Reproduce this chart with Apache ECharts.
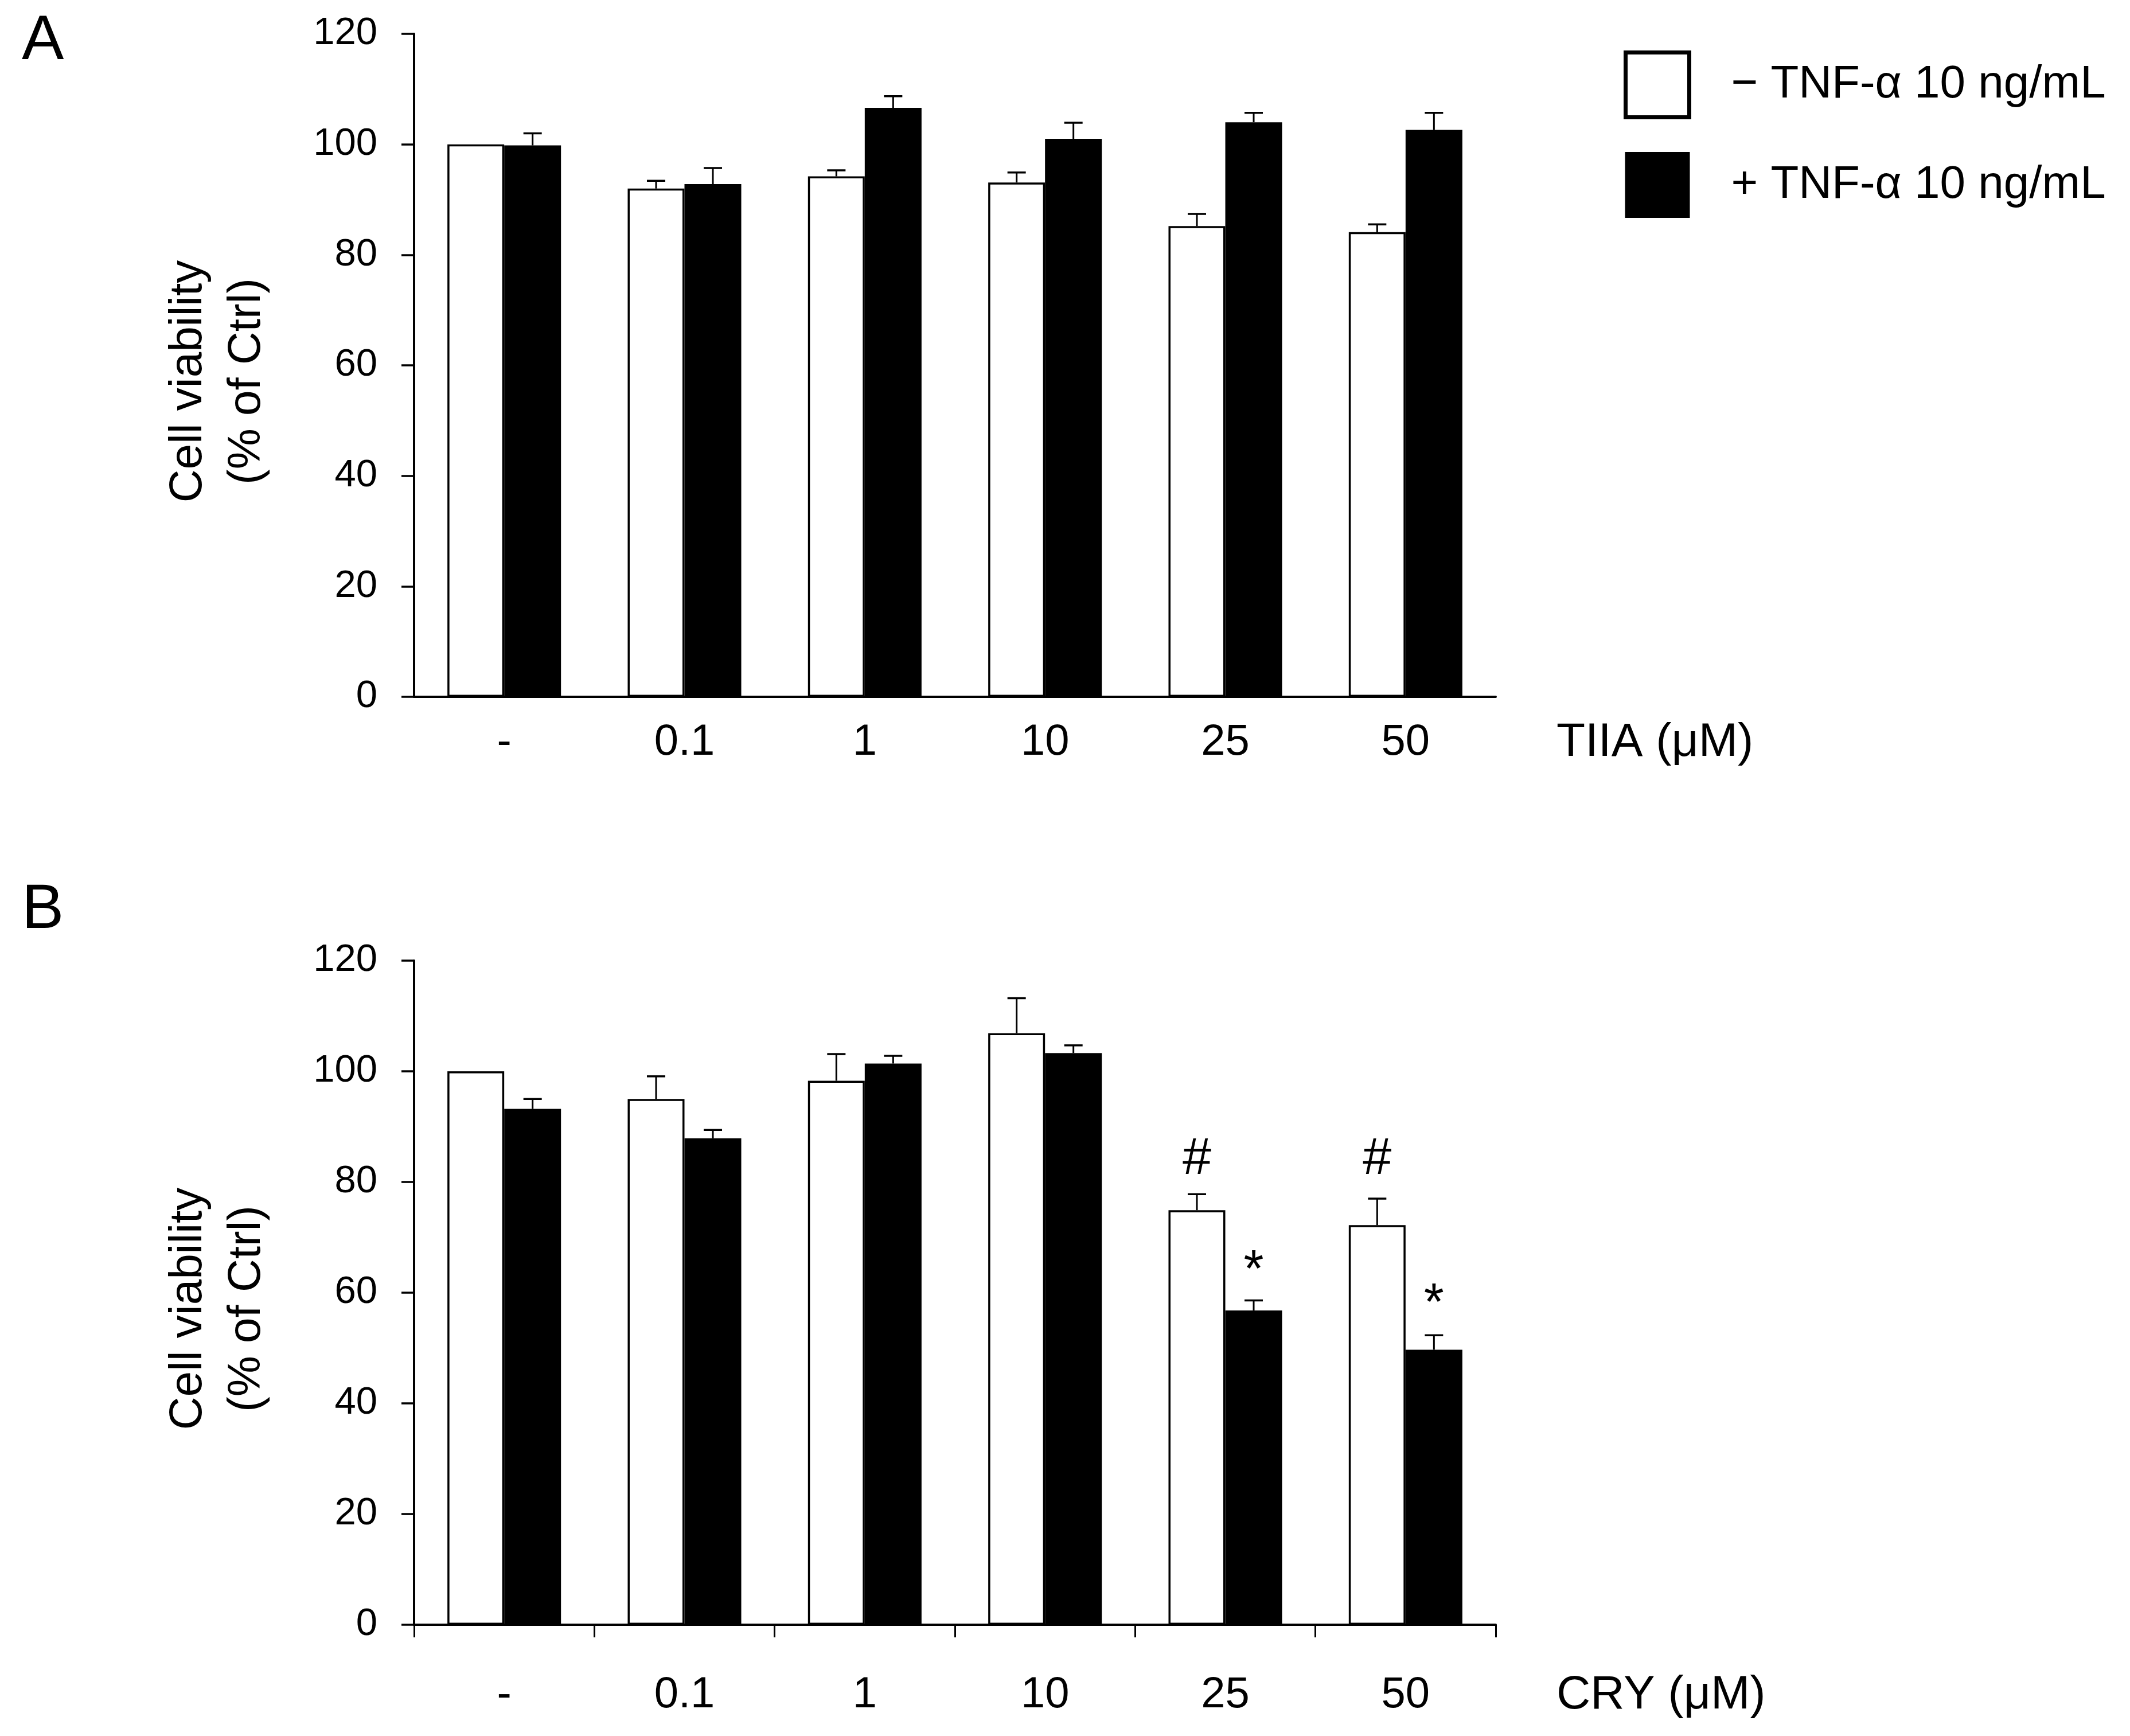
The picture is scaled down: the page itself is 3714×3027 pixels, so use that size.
<!DOCTYPE html>
<html>
<head>
<meta charset="utf-8">
<script src="https://cdn.jsdelivr.net/npm/echarts@6/dist/echarts.min.js"></script>
<style>
    html, body { margin: 0; padding: 0; background: #fff; }
    #chart { width: 3714px; height: 3027px; }
</style>
</head>
<body>
<div id="chart"></div>
<script>
// categories
const cats = ['-', '0.1', '1', '10', '25', '50']
const legendNames = ['− TNF-α 10 ng/mL', '+ TNF-α 10 ng/mL']

// panel A (TIIA)
const aWhite = [100, 92.0, 94.2, 93.1, 85.2, 84.1]
const aWhiteErr = [0, 1.4, 1.1, 1.8, 2.2, 1.4]
const aBlack = [99.8, 92.8, 106.6, 101.0, 104.0, 102.6]
const aBlackErr = [2.2, 2.9, 2.1, 2.9, 1.7, 3.1]

// panel B (CRY)
const bWhite = [100, 95.0, 98.3, 106.9, 74.9, 72.2]
const bWhiteErr = [0, 4.1, 4.8, 6.3, 2.9, 4.8]
const bBlack = [93.2, 87.9, 101.4, 103.3, 56.8, 49.7]
const bBlackErr = [1.8, 1.5, 1.4, 1.4, 1.8, 2.6]

// significance marks in panel B
const markCat = [4, 4, 5, 5]
const markSide = [-1, 1, -1, 1]
const markY = [84.9, 66.2, 84.9, 60.2]
const markText = ['#', '*', '#', '*']

const FONT = 'Liberation Sans, Arial, Helvetica, sans-serif'
const GAP = 0.37

// 误差线
function errorItem(side){
    return function(params, api){
        let cat = api.value(0), val = api.value(1), err = api.value(2)
        if(!err) return
        let band = api.size([1, 0])[0]
        let x = api.coord([cat, val])[0] + side * band * (1 - GAP) / 4
        let y1 = api.coord([cat, val])[1]
        let y2 = api.coord([cat, val + err])[1]
        return {
            type: 'group',
            children: [
                {type: 'line', shape: {x1: x, y1: y1, x2: x, y2: y2}, style: {stroke: '#000', lineWidth: 3}},
                {type: 'line', shape: {x1: x - 16, y1: y2, x2: x + 16, y2: y2}, style: {stroke: '#000', lineWidth: 3.5}}
            ]
        }
    }
}

// # 和 * 标记，星号字形偏上，往下挪一点
function markItem(params, api){
    let i = params.dataIndex
    let cat = api.value(0), val = api.value(1)
    let band = api.size([1, 0])[0]
    let p = api.coord([cat, val])
    let fix = markText[i] == '*' ? 24 : 8
    return {
        type: 'text',
        x: p[0] + markSide[i] * band * (1 - GAP) / 4,
        y: p[1] + fix,
        style: {text: markText[i], fontSize: 90, fontFamily: FONT, fill: '#000', align: 'center', verticalAlign: 'middle'}
    }
}

function pairs(vals, errs){
    return vals.map((v, i) => [i, v, errs[i]])
}

function xAxisOf(idx, name, ticks, margin){
    return {
        type: 'category', gridIndex: idx, data: cats,
        name: name, nameLocation: 'end', nameGap: 106,
        nameTextStyle: {fontSize: 82, fontFamily: FONT, color: '#000', verticalAlign: 'top', lineHeight: (margin + 38) * 2},
        axisLine: {lineStyle: {color: '#000', width: 4}},
        axisTick: {show: ticks, length: 22, lineStyle: {color: '#000', width: 3}},
        axisLabel: {fontSize: 76, fontFamily: FONT, color: '#000', margin: margin}
    }
}

function yAxisOf(idx){
    return {
        type: 'value', gridIndex: idx, min: 0, max: 120, interval: 20,
        name: 'Cell viability\n(% of Ctrl)', nameLocation: 'middle', nameRotate: 90, nameGap: 240,
        nameTextStyle: {fontSize: 80, fontFamily: FONT, color: '#000', lineHeight: 102, padding: [0, 56, 0, 0]},
        axisLine: {show: true, lineStyle: {color: '#000', width: 4}},
        axisTick: {show: true, length: 22, lineStyle: {color: '#000', width: 3.5}},
        axisLabel: {fontSize: 67, fontFamily: FONT, color: '#000', margin: 64},
        splitLine: {show: false}
    }
}

function barsOf(idx, white, black){
    return [
        {
            name: legendNames[0], type: 'bar', xAxisIndex: idx, yAxisIndex: idx, data: white,
            barGap: '0%', barCategoryGap: (GAP * 100) + '%',
            itemStyle: {color: '#fff', borderColor: '#000', borderWidth: 3.5}
        },
        {
            name: legendNames[1], type: 'bar', xAxisIndex: idx, yAxisIndex: idx, data: black,
            barGap: '0%', barCategoryGap: (GAP * 100) + '%',
            itemStyle: {color: '#000', borderColor: '#000', borderWidth: 3.5}
        }
    ]
}

function errsOf(idx, white, whiteErr, black, blackErr){
    return [
        {type: 'custom', xAxisIndex: idx, yAxisIndex: idx, renderItem: errorItem(-1), data: pairs(white, whiteErr), encode: {x: 0, y: 1}, z: 5},
        {type: 'custom', xAxisIndex: idx, yAxisIndex: idx, renderItem: errorItem(1), data: pairs(black, blackErr), encode: {x: 0, y: 1}, z: 5}
    ]
}

let mychart = echarts.init(document.getElementById('chart'))
mychart.setOption({
    animation: false,
    backgroundColor: '#fff',
    textStyle: {fontFamily: FONT},
    title: [
        {text: 'A', left: 38, top: 18, padding: 0, textStyle: {fontSize: 110, fontWeight: 'normal', fontFamily: FONT, color: '#000'}},
        {text: 'B', left: 38, top: 1533, padding: 0, textStyle: {fontSize: 110, fontWeight: 'normal', fontFamily: FONT, color: '#000'}}
    ],
    legend: {
        orient: 'vertical', left: 2831, top: 88, padding: 0,
        itemWidth: 111, itemHeight: 113, itemGap: 57,
        icon: 'rect',
        data: [
            {name: legendNames[0], itemStyle: {borderWidth: 7}},
            {name: legendNames[1]}
        ],
        textStyle: {fontSize: 80, fontFamily: FONT, color: '#000', padding: [0, 0, 0, 68]}
    },
    grid: [
        {left: 722, top: 59, width: 1886, height: 1156, containLabel: false, outerBoundsMode: 'none'},
        {left: 722, top: 1675, width: 1886, height: 1158, containLabel: false, outerBoundsMode: 'none'}
    ],
    xAxis: [xAxisOf(0, 'TIIA (μM)', false, 42), xAxisOf(1, 'CRY (μM)', true, 85)],
    yAxis: [yAxisOf(0), yAxisOf(1)],
    series: [
        ...barsOf(0, aWhite, aBlack),
        ...barsOf(1, bWhite, bBlack),
        ...errsOf(0, aWhite, aWhiteErr, aBlack, aBlackErr),
        ...errsOf(1, bWhite, bWhiteErr, bBlack, bBlackErr),
        {
            type: 'custom', xAxisIndex: 1, yAxisIndex: 1, renderItem: markItem, z: 6,
            data: markCat.map((c, i) => [c, markY[i]]), encode: {x: 0, y: 1}
        }
    ]
})
</script>
</body>
</html>
